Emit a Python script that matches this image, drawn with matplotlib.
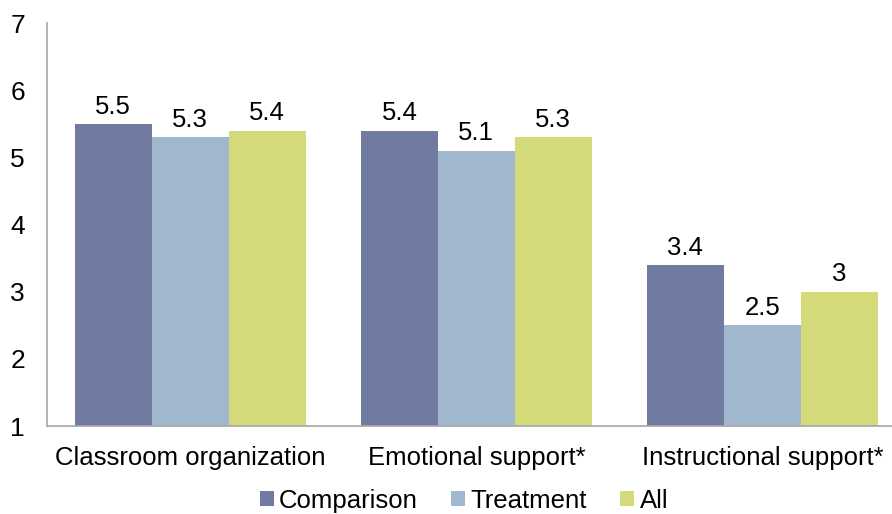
import matplotlib
matplotlib.use("Agg")
import matplotlib.pyplot as plt
import numpy as np

plt.rcParams["font.family"] = ["Liberation Sans", "DejaVu Sans"]

categories = ["Classroom organization", "Emotional support*", "Instructional support*"]
series_names = ["Comparison", "Treatment", "All"]
comparison = [5.5, 5.4, 3.4]
treatment = [5.3, 5.1, 2.5]
all_vals = [5.4, 5.3, 3.0]
labels = [["5.5", "5.4", "3.4"], ["5.3", "5.1", "2.5"], ["5.4", "5.3", "3"]]
colors = ["#717ba1", "#a1b7ce", "#d4da7a"]

fig = plt.figure(figsize=(8.92, 5.14), dpi=100)
# axes run slightly past the right edge, as in the original crop
ax = fig.add_axes([0.053, 0.171, 0.962, 0.784])

x = np.arange(len(categories))
w = 0.269
base = 1
for i, (vals, name) in enumerate(zip([comparison, treatment, all_vals], series_names)):
    pos = x + (i - 1) * w
    heights = [v - base for v in vals]
    ax.bar(pos, heights, w, bottom=base, color=colors[i], label=name)
    for p, v, t in zip(pos, vals, labels[i]):
        ax.text(p, v + 0.08, t, ha="center", va="bottom", fontsize=18.5)

ax.set_xlim(-0.5, 2.5)
ax.set_ylim(1, 7)
ax.set_yticks(range(1, 8))
ax.set_xticks(x)
ax.set_xticklabels(categories)
ax.tick_params(axis="both", length=0, labelsize=18.5)
ax.tick_params(axis="y", pad=16, labelsize=19)
ax.tick_params(axis="x", pad=14)
for s in ["top", "right"]:
    ax.spines[s].set_visible(False)
for s in ["left", "bottom"]:
    ax.spines[s].set_color("#a6a6a6")
    ax.spines[s].set_linewidth(1.2)

ax.legend(loc="center", bbox_to_anchor=(0.52, 0.026), bbox_transform=fig.transFigure,
          ncol=3, frameon=False, fontsize=18.5, handlelength=0.55, handleheight=0.55,
          handletextpad=0.2, columnspacing=1.3)

fig.savefig("out.png", dpi=100)
